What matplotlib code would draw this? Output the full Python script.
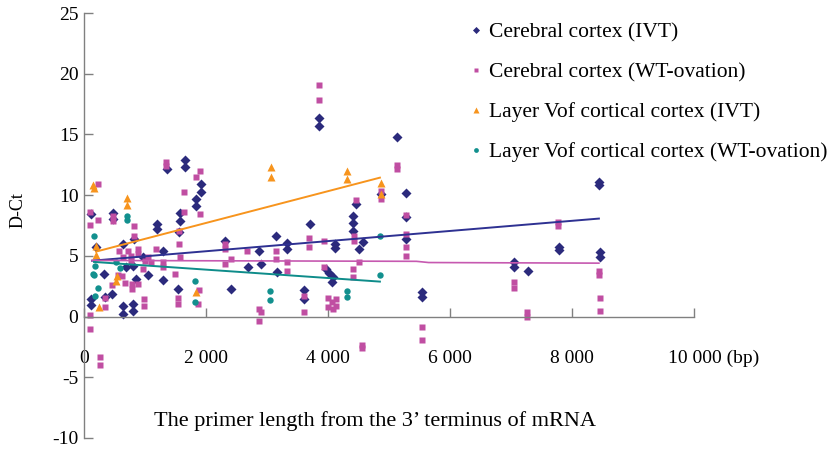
import matplotlib
matplotlib.use("Agg")
import matplotlib.pyplot as plt
import matplotlib.transforms as mtransforms

plt.rcParams['font.family'] = ['Liberation Serif', 'DejaVu Serif']
plt.rcParams['axes.unicode_minus'] = False

# Cerebral cortex (IVT)
ivt_x = [115, 115, 115, 197, 328, 344, 459, 475, 475, 640, 640, 640, 688, 803, 803, 803,
         820, 852, 967, 1049, 1196, 1196, 1295, 1295, 1360, 1541, 1557, 1573, 1573, 1655,
         1655, 1836, 1836, 1918, 1918, 2311, 2409, 2688, 2868, 2901, 3147, 3163, 3327, 3327,
         3606, 3606, 3704, 3852, 3852, 3966, 4015, 4081, 4065, 4114, 4114, 4409, 4409, 4409,
         4458, 4507, 4573, 4868, 5130, 5278, 5278, 5278, 5540, 5540, 7048, 7048, 7277, 7785,
         7785, 8441, 8441, 8457, 8457]
ivt_y = [1.48, 0.99, 8.48, 5.76, 3.54, 1.65, 1.89, 8.56, 8.07, 6.0, 0.9, 0.25, 4.1, 4.2, 1.07, 0.49,
         6.4, 3.1, 4.9, 3.46, 7.65, 7.24, 5.43, 3.05, 12.18, 2.3, 7.0, 8.56, 7.9, 12.92,
         12.35, 9.71, 9.14, 10.95, 10.29, 6.26, 2.3, 4.1, 5.43, 4.36, 6.67, 3.7, 6.09, 5.6,
         2.22, 1.48, 7.65, 16.38, 15.72, 3.95, 3.62, 3.29, 2.88, 6.0, 5.68, 8.31, 7.74, 7.08,
         9.3, 5.6, 6.17, 10.12, 14.81, 10.2, 8.23, 6.42, 2.06, 1.65, 4.53, 4.12, 3.79, 5.76,
         5.51, 11.11, 10.86, 5.35, 4.94]

# Cerebral cortex (WT-ovation)
wt_x = [98, 98, 229, 229, 475, 475, 820, 820, 885, 770, 770, 557, 459, 344, 344, 98, 98,
        672, 623, 787, 787, 885, 983, 983, 1344, 1344, 1639, 1639, 1557, 1557, 1541, 1541,
        1836, 1901, 1901, 1885, 1868, 1295, 1295, 1180, 1491, 1000, 967, 1573, 574, 640,
        721, 885, 1049, 1098, 262, 262,
        2311, 2311, 2311, 2409, 2672, 3147, 3147, 2868, 2868, 2901, 3327, 3327, 3688, 3688,
        3934, 3934, 4409, 4409, 4458, 4507, 4425, 4425, 4868, 4868, 5130, 5130, 5278, 5278,
        5278, 5278, 3606, 3606, 3999, 3999, 4065, 4130, 4130, 4081, 4556, 4556, 5540, 5540,
        3852, 3852, 7769, 7769, 7048, 7048, 7261, 7261, 8441, 8441, 8457, 8457]
wt_y = [8.64, 7.57, 10.95, 7.98, 8.31, 7.9, 7.49, 6.67, 5.6, 5.02, 4.61, 3.46, 2.63, 1.56, 0.82, 0.16, -0.99,
        2.8, 3.37, 2.72, 2.3, 2.72, 1.48, 0.91, 12.76, 12.43, 10.29, 8.64, 7.08, 6.0, 1.56, 1.07,
        11.52, 12.02, 8.48, 2.22, 1.07, 4.53, 4.12, 5.6, 3.54, 4.61, 3.95, 4.94, 5.43, 4.94,
        5.43, 5.19, 4.94, 4.53, -3.3, -4.0,
        6.0, 5.6, 4.36, 4.77, 5.43, 5.43, 4.77, 0.66, -0.33, 0.41, 4.53, 3.79, 6.5, 5.76,
        6.26, 4.12, 3.95, 3.29, 9.63, 4.53, 6.67, 6.26, 10.37, 9.71, 12.18, 12.5, 8.4, 6.83,
        5.76, 5.02, 1.73, 0.41, 1.56, 0.82, 1.23, 1.48, 0.91, 0.66, -2.3, -2.6, -0.82, -1.89,
        19.1, 17.86, 7.82, 7.49, 2.88, 2.39, 0.41, 0.0, 3.79, 3.46, 1.56, 0.49]

# Layer V of cortical cortex (IVT)
lv_ivt_x = [148, 164, 705, 705, 197, 197, 541, 524, 246, 1836, 3065, 3065, 4311, 4311, 4868, 4868]
lv_ivt_y = [10.86, 10.6, 9.79, 9.22, 5.84, 5.1, 3.37, 2.96, 0.82, 2.06, 12.35, 11.52, 12.02, 11.36, 11.03, 10.12]

# Layer V of cortical cortex (WT-ovation)
lv_wt_x = [164, 164, 180, 148, 229, 180, 524, 590, 705, 705, 1819, 1819, 3049, 3049, 4311, 4311, 4851, 4851]
lv_wt_y = [6.67, 3.46, 4.2, 3.54, 2.39, 1.73, 4.53, 4.03, 8.31, 7.98, 2.96, 1.23, 2.14, 1.4, 2.14, 1.65, 6.67, 3.46]

# trend lines
ivt_trend_x = [131, 8441]
ivt_trend_y = [4.6, 8.07]
wt_trend_x = [131, 5450, 5650, 8441]
wt_trend_y = [4.62, 4.55, 4.45, 4.40]
lv_ivt_trend_x = [197, 4851]
lv_ivt_trend_y = [5.35, 11.44]
lv_wt_trend_x = [164, 4851]
lv_wt_trend_y = [4.5, 2.88]

x_ticks = [0, 2000, 4000, 6000, 8000, 10000]
x_labels = ['0', '2 000', '4 000', '6 000', '8 000', '10 000 (bp)']
y_ticks = [-10, -5, 0, 5, 10, 15, 20, 25]

navy = '#2B2A7C'
magenta = '#C04EA2'
orange = '#F7941D'
teal = '#12908E'

fig = plt.figure(figsize=(8.3, 4.5), dpi=100)
ax = fig.add_axes([84 / 830, 1 - 438 / 450, (694 - 84) / 830, (438 - 13) / 450])

ax.plot(ivt_x, ivt_y, 'D', color=navy, ms=4.8, mec='none', label='Cerebral cortex (IVT)')
ax.plot(wt_x, wt_y, 's', color=magenta, ms=4.6, mec='none', label='Cerebral cortex (WT-ovation)')
ax.plot(lv_ivt_x, lv_ivt_y, '^', color=orange, ms=6.2, mec='none', label='Layer Vof cortical cortex (IVT)')
ax.plot(lv_wt_x, lv_wt_y, 'o', color=teal, ms=4.6, mec='none', label='Layer Vof cortical cortex (WT-ovation)')

ax.plot(ivt_trend_x, ivt_trend_y, color='#2E3192', lw=1.4)
ax.plot(wt_trend_x, wt_trend_y, color='#C659B0', lw=1.2)
ax.plot(lv_ivt_trend_x, lv_ivt_trend_y, color=orange, lw=1.4)
ax.plot(lv_wt_trend_x, lv_wt_trend_y, color='#0E8C8A', lw=1.4)

ax.set_xlim(0, 10000)
ax.set_ylim(-10, 25)
for s in ['top', 'right']:
  ax.spines[s].set_visible(False)
ax.spines['bottom'].set_position(('data', 0))
for s in ['left', 'bottom']:
  ax.spines[s].set_color('#808080')
  ax.spines[s].set_linewidth(1.0)

ax.set_xticks(x_ticks)
ax.set_xticklabels(x_labels)
ax.set_yticks(y_ticks)
ax.tick_params(axis='both', direction='in', length=6.5, width=1.0, color='#808080', labelsize=14)
ax.tick_params(axis='x', pad=24)
ax.tick_params(axis='y', pad=4)

# shift the last label so "(bp)" hangs to the right of the tick
last = ax.get_xticklabels()[-1]
last.set_transform(last.get_transform() + mtransforms.ScaledTranslation(0.2, 0, fig.dpi_scale_trans))

fig.text(375 / 830, 1 - 421 / 450, 'The primer length from the 3\u2019 terminus of mRNA',
         ha='center', va='center', fontsize=16)
fig.text(18 / 830, 1 - 210 / 450, 'D-Ct', ha='center', va='center', rotation=90, fontsize=13)

fig.legend(loc='upper left', bbox_to_anchor=(470 / 830, 1 - 22 / 450), frameon=False,
           fontsize=15.5, handlelength=0.6, handletextpad=0.3, labelspacing=0.93,
           borderpad=0, borderaxespad=0, markerscale=0.75, numpoints=1)

fig.savefig('out.png', dpi=100)
